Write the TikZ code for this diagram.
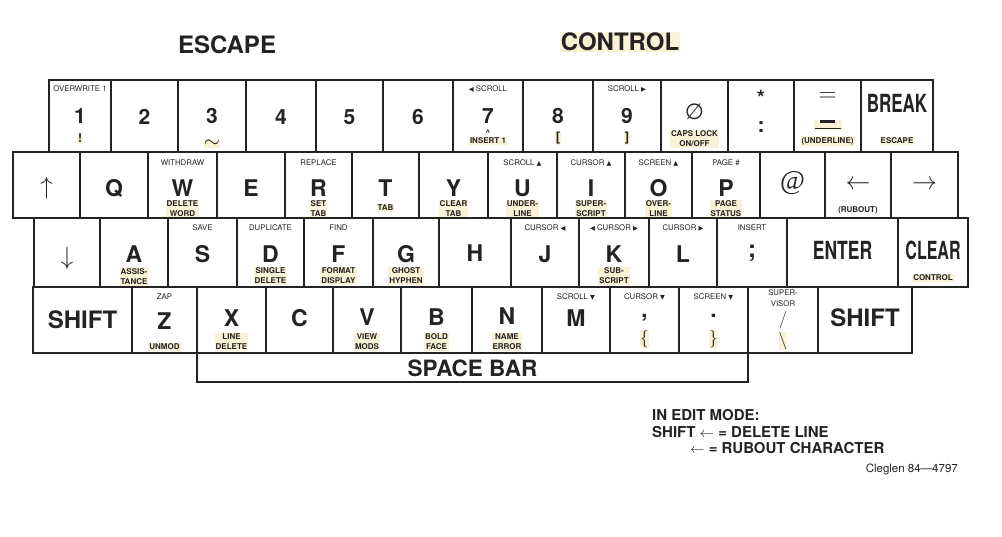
\documentclass[tikz,border=0pt]{standalone}
\usepackage{fontspec}
\usepackage{graphicx}
\setmainfont{TeX Gyre Heros}
\newfontfamily\symf{DejaVu Sans}
\newfontfamily\serf{Liberation Serif}
\definecolor{ink}{RGB}{35,35,35}
\definecolor{hlc}{RGB}{250,242,214}
\newcommand\fs[1]{\fontsize{#1}{#1}\selectfont}
\newcommand\K[5]{\node[kbox,minimum width={(#3-#2)*1pt},minimum height={(#5-#4)*1pt}] (#1) at ({(#2+#3)/2},{(#4+#5)/2}) {};}
\newcommand\tri[1]{{\symf\fontsize{6.3}{6.3}\selectfont #1}}
\begin{document}
\begin{tikzpicture}[x=1pt,y=-1pt,
 kbox/.style={draw=ink,line width=1.3pt,inner sep=0pt,outer sep=0pt,rectangle},
 big/.style={font=\fs{23}\bfseries,text=ink,inner sep=0pt,text depth=0pt},
 num/.style={font=\fs{21}\bfseries,text=ink,inner sep=0pt,text depth=0pt},
 cond/.style={font=\fs{25}\bfseries,text=ink,inner sep=0pt,text depth=0pt},
 toplab/.style={font=\fontsize{7.8}{11}\selectfont,text=ink,inner sep=0pt,align=center},
 botlab/.style={font=\fontsize{8}{10}\selectfont\bfseries,text=ink,align=center,fill=hlc,inner sep=1pt},
 title/.style={font=\fs{24}\bfseries,text=ink,inner sep=1pt},
 note/.style={font=\fs{15}\bfseries,text=ink,inner sep=0pt,anchor=west},
 sym/.style={text=ink,inner sep=0pt},
]
\fill[white] (0,0) rectangle (1002,536);
\useasboundingbox (0,0) rectangle (1002,536);

% titles
\node[title] (tesc) at (227,45) {ESCAPE};
\node[title,fill=hlc] (tctl) at (620,42) {CONTROL};

% ---------- row 1 ----------
\K{k1}{49}{111}{80}{152}
\K{k2}{111}{178}{80}{152}
\K{k3}{178}{246}{80}{152}
\K{k4}{246}{316}{80}{152}
\K{k5}{316}{383}{80}{152}
\K{k6}{383}{453}{80}{152}
\K{k7}{453}{523}{80}{152}
\K{k8}{523}{593}{80}{152}
\K{k9}{593}{661}{80}{152}
\K{k0}{661}{728}{80}{152}
\K{kstar}{728}{794}{80}{152}
\K{keq}{794}{861}{80}{152}
\K{kbrk}{861}{933}{80}{152}

\node[toplab] (t1) at (k1.center |- 0,89) {OVERWRITE 1};
\node[num] (m1) at (k1.center |- 0,116) {1};
\node[botlab,font=\fs{12}\bfseries] (b1) at (k1.center |- 0,138) {!};
\node[num] (m2) at (k2.center |- 0,117) {2};
\node[num] (m3) at (k3.center |- 0,116) {3};
\node[sym,fill=hlc,font=\fs{20}] (b3) at (k3.center |- 0,144) {$\sim$};
\node[num] (m4) at (k4.center |- 0,117) {4};
\node[num] (m5) at (k5.center |- 0,117) {5};
\node[num] (m6) at (k6.center |- 0,117) {6};
\node[toplab] (t7) at (k7.center |- 0,89) {\tri{◀} SCROLL};
\node[num] (m7) at (k7.center |- 0,116) {7};
\node[sym,font=\fs{8}\bfseries] (c7) at (k7.center |- 0,133) {\^{}};
\node[botlab] (b7) at (k7.center |- 0,141) {INSERT 1};
\node[num] (m8) at (k8.center |- 0,116) {8};
\node[botlab,font=\fs{13}\bfseries] (b8) at (k8.center |- 0,138) {[};
\node[toplab] (t9) at (k9.center |- 0,89) {SCROLL \tri{▶}};
\node[num] (m9) at (k9.center |- 0,116) {9};
\node[botlab,font=\fs{13}\bfseries] (b9) at (k9.center |- 0,138) {]};
\node[sym,font=\symf\fs{22}] (m0) at (k0.center |- 0,112) {∅};
\node[botlab] (b0) at (k0.center |- 0,139) {CAPS LOCK\\ON/OFF};
\node[sym,font=\fs{21}\bfseries] (mstar) at (kstar.center |- 0,98) {*};
\node[sym,font=\fs{21}\bfseries] (mcol) at (kstar.center |- 0,127) {:};
\node[sym,font=\fs{24}] (meq) at (keq.center |- 0,97) {$=$};
\node[sym,fill=hlc,minimum width=28pt,minimum height=10pt] (hleq) at (keq.center |- 0,125) {};
\node[sym] (mminus) at (keq.center |- 0,121) {\rule{15pt}{3pt}};
\node[sym] (mund) at (keq.center |- 0,128.5) {\rule{26pt}{1.3pt}};
\node[botlab] (beq) at (keq.center |- 0,141) {(UNDERLINE)};
\node[cond] (mbrk) at (kbrk.center |- 0,103) {\scalebox{0.68}[1]{BREAK}};
\node[botlab] (bbrk) at (kbrk.center |- 0,141) {ESCAPE};

% ---------- row 2 ----------
\K{kup}{13}{80}{152}{218}
\K{kQ}{80}{148}{152}{218}
\K{kW}{148}{217}{152}{218}
\K{kE}{217}{285}{152}{218}
\K{kR}{285}{352}{152}{218}
\K{kT}{352}{419}{152}{218}
\K{kY}{419}{488}{152}{218}
\K{kU}{488}{557}{152}{218}
\K{kI}{557}{625}{152}{218}
\K{kO}{625}{692}{152}{218}
\K{kP}{692}{760}{152}{218}
\K{kat}{760}{825}{152}{218}
\K{kleft}{825}{891}{152}{218}
\K{kright}{891}{958}{152}{218}

\node[sym,font=\fs{24}] (mup) at (kup.center |- 0,188) {$\uparrow$};
\node[big] (mQ) at (kQ.center |- 0,188) {Q};
\node[toplab] (tW) at (kW.center |- 0,163) {WITHDRAW};
\node[big] (mW) at (kW.center |- 0,188) {W};
\node[botlab] (bW) at (kW.center |- 0,209) {DELETE\\WORD};
\node[big] (mE) at (kE.center |- 0,188) {E};
\node[toplab] (tR) at (kR.center |- 0,163) {REPLACE};
\node[big] (mR) at (kR.center |- 0,188) {R};
\node[botlab] (bR) at (kR.center |- 0,209) {SET\\TAB};
\node[big] (mT) at (kT.center |- 0,188) {T};
\node[botlab] (bT) at (kT.center |- 0,208) {TAB};
\node[big] (mY) at (kY.center |- 0,188) {Y};
\node[botlab] (bY) at (kY.center |- 0,209) {CLEAR\\TAB};
\node[toplab] (tU) at (kU.center |- 0,163) {SCROLL \tri{▲}};
\node[big] (mU) at (kU.center |- 0,188) {U};
\node[botlab] (bU) at (kU.center |- 0,209) {UNDER-\\LINE};
\node[toplab] (tI) at (kI.center |- 0,163) {CURSOR \tri{▲}};
\node[big] (mI) at (kI.center |- 0,188) {I};
\node[botlab] (bI) at (kI.center |- 0,209) {SUPER-\\SCRIPT};
\node[toplab] (tO) at (kO.center |- 0,163) {SCREEN \tri{▲}};
\node[big] (mO) at (kO.center |- 0,188) {O};
\node[botlab] (bO) at (kO.center |- 0,209) {OVER-\\LINE};
\node[toplab] (tP) at (kP.center |- 0,163) {PAGE \#};
\node[big] (mP) at (kP.center |- 0,188) {P};
\node[botlab] (bP) at (kP.center |- 0,209) {PAGE\\STATUS};
\node[sym,font=\serf\fs{27}] (mat) at (kat.center |- 0,183) {@};
\node[sym,font=\fs{25}] (mleft) at (kleft.center |- 0,185) {$\leftarrow$};
\node[toplab,font=\fs{8}\bfseries] (bleft) at (kleft.center |- 0,210) {(RUBOUT)};
\node[sym,font=\fs{25}] (mright) at (kright.center |- 0,185) {$\rightarrow$};

% ---------- row 3 ----------
\K{kdown}{34}{100}{218}{287}
\K{kA}{100}{168}{218}{287}
\K{kS}{168}{237}{218}{287}
\K{kD}{237}{304}{218}{287}
\K{kF}{304}{373}{218}{287}
\K{kG}{373}{439}{218}{287}
\K{kH}{439}{511}{218}{287}
\K{kJ}{511}{579}{218}{287}
\K{kK}{579}{649}{218}{287}
\K{kL}{649}{717}{218}{287}
\K{ksemi}{717}{787}{218}{287}
\K{kent}{787}{898}{218}{287}
\K{kclr}{898}{968}{218}{287}

\node[sym,font=\fs{25}] (mdown) at (kdown.center |- 0,258) {$\downarrow$};
\node[big] (mA) at (kA.center |- 0,254) {A};
\node[botlab] (bA) at (kA.center |- 0,276.5) {ASSIS-\\TANCE};
\node[toplab] (tS) at (kS.center |- 0,228) {SAVE};
\node[big] (mS) at (kS.center |- 0,254) {S};
\node[toplab] (tD) at (kD.center |- 0,228) {DUPLICATE};
\node[big] (mD) at (kD.center |- 0,254) {D};
\node[botlab] (bD) at (kD.center |- 0,276) {SINGLE\\DELETE};
\node[toplab] (tF) at (kF.center |- 0,228) {FIND};
\node[big] (mF) at (kF.center |- 0,254) {F};
\node[botlab] (bF) at (kF.center |- 0,276) {FORMAT\\DISPLAY};
\node[big] (mG) at (kG.center |- 0,254) {G};
\node[botlab] (bG) at (kG.center |- 0,276) {GHOST\\HYPHEN};
\node[big] (mH) at (kH.center |- 0,253) {H};
\node[toplab] (tJ) at (kJ.center |- 0,228) {CURSOR \tri{◀}};
\node[big] (mJ) at (kJ.center |- 0,254) {J};
\node[toplab] (tK) at (kK.center |- 0,228) {\tri{◀} CURSOR \tri{▶}};
\node[big] (mK) at (kK.center |- 0,254) {K};
\node[botlab] (bK) at (kK.center |- 0,276) {SUB-\\SCRIPT};
\node[toplab] (tL) at (kL.center |- 0,228) {CURSOR \tri{▶}};
\node[big] (mL) at (kL.center |- 0,254) {L};
\node[toplab] (tsemi) at (ksemi.center |- 0,228) {INSERT};
\node[sym,font=\fs{24}\bfseries] (msemi) at (ksemi.center |- 0,253) {;};
\node[cond] (ment) at (kent.center |- 0,250) {\scalebox{0.7}[1]{ENTER}};
\node[cond] (mclr) at (kclr.center |- 0,250) {\scalebox{0.64}[1]{CLEAR}};
\node[botlab] (bclr) at (kclr.center |- 0,278) {CONTROL};

% ---------- row 4 ----------
\K{klsh}{33}{132}{287}{353}
\K{kZ}{132}{197}{287}{353}
\K{kX}{197}{266}{287}{353}
\K{kC}{266}{333}{287}{353}
\K{kV}{333}{401}{287}{353}
\K{kB}{401}{472}{287}{353}
\K{kN}{472}{542}{287}{353}
\K{kM}{542}{610}{287}{353}
\K{kcom}{610}{679}{287}{353}
\K{kper}{679}{748}{287}{353}
\K{ksl}{748}{818}{287}{353}
\K{krsh}{818}{912}{287}{353}
\K{kspace}{197}{748}{353}{382}

\node[big,font=\fs{24}\bfseries] (mlsh) at (klsh.center |- 0,320) {SHIFT};
\node[toplab] (tZ) at (kZ.center |- 0,297) {ZAP};
\node[big] (mZ) at (kZ.center |- 0,321) {Z};
\node[botlab] (bZ) at (kZ.center |- 0,347) {UNMOD};
\node[big] (mX) at (kX.center |- 0,318) {X};
\node[botlab] (bX) at (kX.center |- 0,342) {LINE\\DELETE};
\node[big] (mC) at (kC.center |- 0,318) {C};
\node[big] (mV) at (kV.center |- 0,317) {V};
\node[botlab] (bV) at (kV.center |- 0,342) {VIEW\\MODS};
\node[big] (mB) at (kB.center |- 0,317) {B};
\node[botlab] (bB) at (kB.center |- 0,342) {BOLD\\FACE};
\node[big] (mN) at (kN.center |- 0,316) {N};
\node[botlab] (bN) at (kN.center |- 0,342) {NAME\\ERROR};
\node[toplab] (tM) at (kM.center |- 0,297) {SCROLL \tri{▼}};
\node[big] (mM) at (kM.center |- 0,318) {M};
\node[toplab] (tcom) at (kcom.center |- 0,297) {CURSOR \tri{▼}};
\node[sym,font=\fs{22}\bfseries] (mcom) at (kcom.center |- 0,318) {,};
\node[sym,fill=hlc,font=\fs{17}] (bcom) at (kcom.center |- 0,339) {$\{$};
\node[toplab] (tper) at (kper.center |- 0,297) {SCREEN \tri{▼}};
\node[sym,font=\fs{22}\bfseries] (mper) at (kper.center |- 0,316) {.};
\node[sym,fill=hlc,font=\fs{17}] (bper) at (kper.center |- 0,339) {$\}$};
\node[toplab] (tsl) at (ksl.center |- 0,298) {SUPER-\\VISOR};
\node[sym,font=\fs{17}] (msl) at (ksl.center |- 0,320) {$/$};
\node[sym,fill=hlc,font=\fs{17}] (bsl) at (ksl.center |- 0,341) {$\backslash$};
\node[big,font=\fs{24}\bfseries] (mrsh) at (krsh.center |- 0,318) {SHIFT};
\node[big,font=\fs{22.5}\bfseries] (mspace) at (kspace.center |- 0,368) {SPACE BAR};

% ---------- notes ----------
\node[note] (n1) at (652,415) {IN EDIT MODE:};
\node[note] (n2) at (652,432) {SHIFT {\normalfont$\leftarrow$} = DELETE LINE};
\node[note] (n3) at (690,448) {{\normalfont$\leftarrow$} = RUBOUT CHARACTER};
\node[font=\fs{11.5},text=ink,inner sep=0pt,anchor=east] (n4) at (958,469) {Cleglen 84---4797};
\end{tikzpicture}
\end{document}
